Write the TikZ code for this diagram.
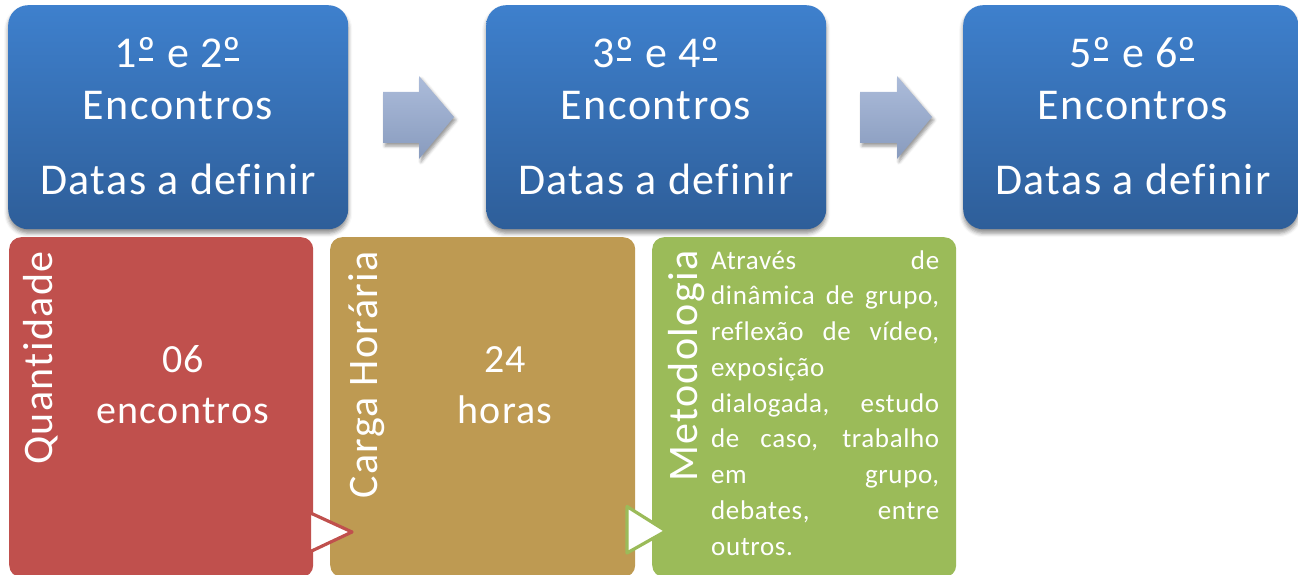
\documentclass[tikz,border=0pt]{standalone}
\usepackage{fontspec}
\setmainfont{Carlito}[LetterSpace=3.3, Ligatures=NoCommon]
\newfontfamily\metfont{Carlito}[LetterSpace=2.3, Ligatures=NoCommon]
\usetikzlibrary{shadows.blur}
\definecolor{bluetop}{RGB}{62,128,205}
\definecolor{bluebot}{RGB}{46,94,153}
\definecolor{cred}{RGB}{192,80,77}
\definecolor{cgold}{RGB}{190,154,82}
\definecolor{cgreen}{RGB}{155,187,89}
\definecolor{arrtop}{RGB}{172,188,218}
\definecolor{arrbot}{RGB}{136,155,190}
\newcommand\mord{\ooalign{º\cr\hidewidth\rule[0.17em]{0.32em}{0.05em}\hidewidth\cr}}
\newcommand\jline[1]{\spaceskip=8.5pt plus 1fil minus 3pt\relax\makebox[228pt][s]{#1}}
\begin{document}
\begin{tikzpicture}[x=1pt,y=-1pt,
  bluebox/.style={rounded corners=20pt, top color=bluetop, bottom color=bluebot, draw=none,
    minimum width=340pt, minimum height=224pt, inner sep=0pt, anchor=north west,
    blur shadow={shadow xshift=0pt, shadow yshift=-4pt, shadow blur radius=4pt, shadow opacity=45}},
  catbox/.style={rounded corners=12pt, draw=none, minimum height=340pt, inner sep=0pt, anchor=north west},
  toptext/.style={text=white, font=\fontsize{44}{50}\selectfont, inner sep=0pt, anchor=base},
  midtext/.style={text=white, font=\fontsize{40}{46}\selectfont, inner sep=0pt, anchor=base},
  vlabel/.style={text=white, font=\fontsize{42}{48}\selectfont, inner sep=0pt, rotate=90, anchor=east},
  metline/.style={text=white, font=\metfont\fontsize{27}{33}\selectfont, inner sep=0pt, anchor=base west},
  blockarrow/.style={top color=arrtop, bottom color=arrbot, draw=none,
    blur shadow={shadow xshift=2pt, shadow yshift=-3pt, shadow blur radius=3pt, shadow opacity=40}},
  tri/.style={line width=3.2pt, fill=white, line join=round}
]
\useasboundingbox (0,0) rectangle (1298,575);

% top blue boxes
\node[bluebox] (b1) at (8,5) {};
\node[bluebox] (b2) at (486,5) {};
\node[bluebox, minimum width=335pt] (b3) at (963,5) {};

\node[toptext] (t1a) at (178,68) {1\mord{} e 2\mord};
\node[toptext] (t1b) at (178,120) {Encontros};
\node[toptext] (t1c) at (178,194) {Datas a definir};
\node[toptext] (t2a) at (656,68) {3\mord{} e 4\mord};
\node[toptext] (t2b) at (656,120) {Encontros};
\node[toptext] (t2c) at (656,194) {Datas a definir};
\node[toptext] (t3a) at (1133,68) {5\mord{} e 6\mord};
\node[toptext] (t3b) at (1133,120) {Encontros};
\node[toptext] (t3c) at (1133,194) {Datas a definir};

% block arrows
\path[blockarrow] (383,92) -- (419,92) -- (419,76) -- (454,117) -- (419,159) -- (419,143) -- (383,143) -- cycle;
\path[blockarrow] (860,92) -- (897,92) -- (897,76) -- (932,117) -- (897,159) -- (897,143) -- (860,143) -- cycle;

% lower boxes
\node[catbox, fill=cred, minimum width=304pt] (c1) at (9,237) {};
\node[catbox, fill=cgold, minimum width=305pt] (c2) at (330,237) {};
\node[catbox, fill=cgreen, minimum width=304pt] (c3) at (652,237) {};

\node[vlabel] (l1) at (41,251) {Quantidade};
\node[vlabel] (l2) at (367,251) {Carga Horária};
\node[vlabel] (l3) at (687,250) {Metodologia};

\node[midtext] (q1) at (183,372) {06};
\node[midtext] (q2) at (183,423) {encontros};
\node[midtext] (h1) at (505,372) {24};
\node[midtext] (h2) at (505,423) {horas};

\node[metline] (m1) at (711,269) {\jline{Através de}};
\node[metline] (m2) at (711,304.75) {\jline{dinâmica de grupo,}};
\node[metline] (m3) at (711,340.5) {\jline{reflexão de vídeo,}};
\node[metline] (m4) at (711,376.25) {exposição};
\node[metline] (m5) at (711,412) {\jline{dialogada, estudo}};
\node[metline] (m6) at (711,447.75) {\jline{de caso, trabalho}};
\node[metline] (m7) at (711,483.5) {\jline{em grupo,}};
\node[metline] (m8) at (711,519.25) {\jline{debates, entre}};
\node[metline] (m9) at (711,555) {outros.};

% triangles
\draw[tri, draw=cred] (309.5,512.5) -- (352,532) -- (309.5,552) -- cycle;
\draw[tri, draw=cgreen] (627,506.5) -- (666,531) -- (627,553) -- cycle;
\end{tikzpicture}
\end{document}
